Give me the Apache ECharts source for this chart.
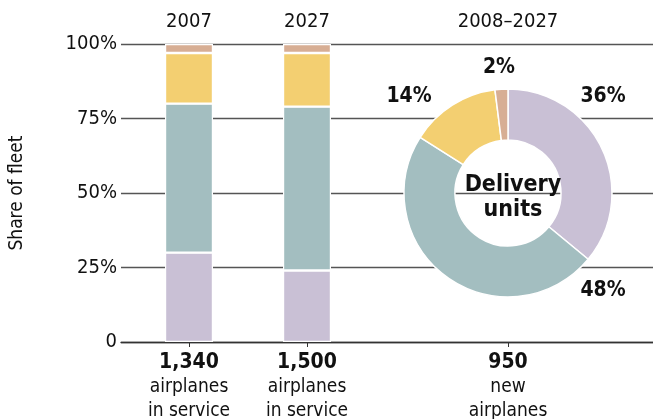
<!DOCTYPE html>
<html>
<head>
<meta charset="utf-8">
<script src="https://cdn.jsdelivr.net/npm/echarts@6/dist/echarts.min.js"></script>
<style>
  html, body { margin: 0; padding: 0; background: #fff; }
  #chart { width: 653px; height: 419px; }
</style>
</head>
<body>
<div id="chart"></div>
<script>
// Fleet composition: two stacked columns (share of fleet) and a donut of deliveries.
const columnYears   = ['2007', '2027'];
const columnTotals  = ['1,340', '1,500'];
const columnCaption = ['airplanes\nin service', 'airplanes\nin service'];
const deliveryYears   = '2008–2027';
const deliveryTotal   = '950';
const deliveryCaption = 'new\nairplanes';

const segmentNames = ['Group A', 'Group B', 'Group C', 'Group D'];
const shareA = [30, 24];   // bottom segment
const shareB = [50, 55];
const shareC = [17, 18];
const shareD = [3, 3];     // top segment
const deliveryShares = [36, 48, 14, 2];

// Layout (pixels)
const FONT = '"Liberation Sans Narrow", "DejaVu Sans Condensed", "Arial Narrow", sans-serif';
const gridLeft = 121, gridTop = 44, gridBottom = 77, gridWidth = 532;
const slotX = [68, 186, 387];           // column centres along the full-width x axis
const bandWidth = slotX[1] - slotX[0];  // one category band of the column grid
const pieCenter = [gridLeft + slotX[2], 193];

const colors = ['#c9c0d5', '#a3bec0', '#f3cf71', '#d7ae94'];

const segData = [shareA, shareB, shareC, shareD];
const topLabels = {};
const bottomLabels = {};
columnYears.forEach((y, i) => {
  topLabels[slotX[i]] = y;
  bottomLabels[slotX[i]] = '{b|' + columnTotals[i] + '}\n' + columnCaption[i];
});
topLabels[slotX[2]] = deliveryYears;
bottomLabels[slotX[2]] = '{b|' + deliveryTotal + '}\n' + deliveryCaption;

// hand-placed percentage labels around the donut (offsets from its centre)
const pieLabelOffsets = [[95, -96], [95, 98], [-99, -96], [-9, -125]];

const chart = echarts.init(document.getElementById('chart'), null, { renderer: 'canvas' });

const barSeries = segData.map((vals, k) => ({
  name: segmentNames[k],
  type: 'bar',
  stack: 'fleet',
  xAxisIndex: 2,
  yAxisIndex: 1,
  barWidth: 48,
  z: 3,
  itemStyle: { color: colors[k], borderColor: '#fff', borderWidth: 1.2 },
  data: vals
}));

chart.setOption({
  animation: false,
  textStyle: { fontFamily: FONT },
  grid: [
    // full frame: y scale, gridlines, bottom axis and headings
    { left: gridLeft, top: gridTop, bottom: gridBottom, width: gridWidth, outerBoundsMode: 'none', containLabel: false },
    // the two stacked columns
    { left: gridLeft + slotX[0] - bandWidth / 2, top: gridTop, bottom: gridBottom, width: bandWidth * 2, outerBoundsMode: 'none', containLabel: false }
  ],
  title: {
    text: 'Delivery\nunits',
    left: pieCenter[0],
    top: pieCenter[1] - 25,
    textAlign: 'center',
    textStyle: { fontFamily: FONT, fontSize: 23, fontWeight: 'bold', color: '#111', lineHeight: 25 }
  },
  xAxis: [
    {
      gridIndex: 0,
      type: 'value', position: 'bottom', min: 0, max: gridWidth,
      splitLine: { show: false },
      axisLine: { show: true, lineStyle: { color: '#333', width: 1.3 } },
      axisTick: { show: true, customValues: slotX, length: 5, lineStyle: { color: '#333' } },
      axisLabel: {
        customValues: slotX,
        margin: 9,
        formatter: v => bottomLabels[v] || '',
        color: '#111', fontSize: 19, lineHeight: 24, fontFamily: FONT,
        rich: { b: { fontSize: 21, fontWeight: 'bold', lineHeight: 24, fontFamily: FONT, color: '#111' } }
      }
    },
    {
      gridIndex: 0,
      type: 'value', position: 'top', min: 0, max: gridWidth,
      splitLine: { show: false },
      axisLine: { show: false },
      axisTick: { show: false },
      axisLabel: {
        customValues: slotX,
        margin: 12,
        formatter: v => topLabels[v] || '',
        color: '#111', fontSize: 20, fontFamily: FONT
      }
    },
    {
      gridIndex: 1,
      type: 'category',
      data: columnYears,
      show: false
    }
  ],
  yAxis: [
    {
      gridIndex: 0,
      type: 'value', min: 0, max: 100, interval: 25,
      name: 'Share of fleet',
      nameLocation: 'middle',
      nameGap: 94,
      nameRotate: 90,
      nameTextStyle: { fontSize: 19, color: '#111', fontFamily: FONT },
      axisLine: { show: false },
      axisTick: { show: false },
      axisLabel: {
        margin: 4,
        fontSize: 20, color: '#111', fontFamily: FONT,
        formatter: v => (v === 0 ? '0' : v + '%')
      },
      splitLine: { show: true, lineStyle: { color: '#555', width: 1.3 } }
    },
    {
      gridIndex: 1,
      type: 'value', min: 0, max: 100,
      show: false,
      splitLine: { show: false }
    }
  ],
  series: barSeries.concat([{
    type: 'pie',
    z: 4,
    center: pieCenter,
    radius: [53, 104],
    startAngle: 90,
    clockwise: true,
    avoidLabelOverlap: false,
    itemStyle: { borderColor: '#fff', borderWidth: 1.5 },
    label: {
      show: true,
      position: 'inside',
      overflow: 'none',
      formatter: p => p.value + '%',
      fontSize: 21, fontWeight: 'bold', color: '#111', fontFamily: FONT
    },
    labelLine: { show: false },
    labelLayout: p => {
      const o = pieLabelOffsets[p.dataIndex];
      return {
        x: pieCenter[0] + o[0],
        y: pieCenter[1] + o[1],
        align: 'center',
        verticalAlign: 'middle',
        hideOverlap: false
      };
    },
    data: deliveryShares.map((v, i) => ({
      name: segmentNames[i], value: v, itemStyle: { color: colors[i] }
    }))
  }])
});
</script>
</body>
</html>
